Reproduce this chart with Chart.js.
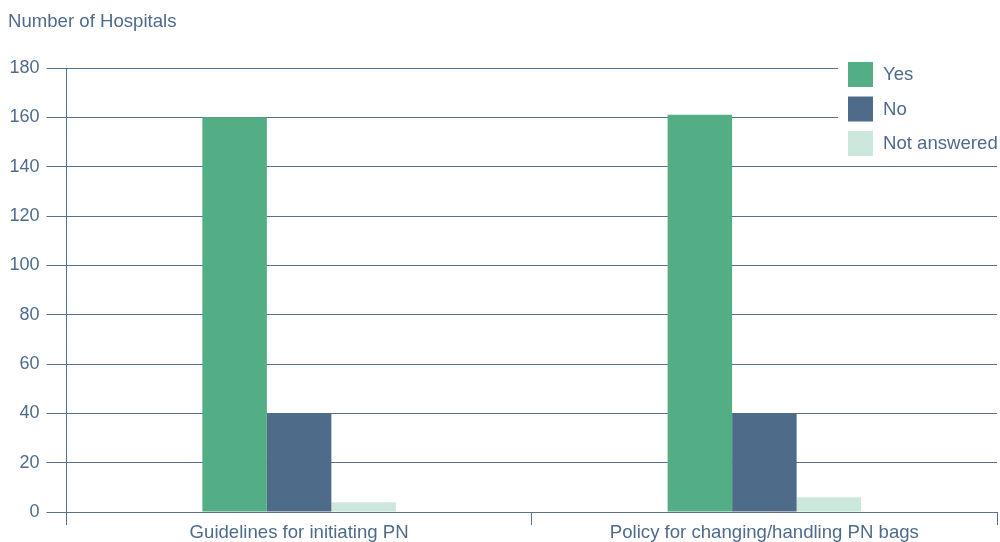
<!DOCTYPE html>
<html>
<head>
<meta charset="utf-8">
<script src="https://cdn.jsdelivr.net/npm/chart.js@4/dist/chart.umd.min.js"></script>
<style>
  html, body { margin: 0; padding: 0; background: #ffffff; }
  #wrap { width: 1000px; height: 542px; position: relative; }
</style>
</head>
<body>
<div id="wrap"><canvas id="chart" width="1000" height="542"></canvas></div>
<script>
// Survey answers per question
const categories = ['Guidelines for initiating PN', 'Policy for changing/handling PN bags'];
const yesValues = [160, 161];
const noValues = [40, 40];
const notAnsweredValues = [4, 6];
const seriesNames = ['Yes', 'No', 'Not answered'];
const yTicks = [0, 20, 40, 60, 80, 100, 120, 140, 160, 180];
const axisTitle = 'Number of Hospitals';

const textColor = '#4f6b8c';
const lineColor = '#56708f';
const fontFamily = '"Liberation Sans", Arial, Helvetica, sans-serif';
const fontSize = 18.6;
const tickFontSize = 18;

// Axis title in the top-left corner plus a boxed legend over the plot
const overlayPlugin = {
  id: 'overlay',
  afterDraw(chart) {
    const ctx = chart.ctx;
    ctx.save();
    ctx.font = fontSize + 'px ' + fontFamily;
    ctx.fillStyle = textColor;
    ctx.textAlign = 'left';
    ctx.textBaseline = 'middle';
    ctx.fillText(axisTitle, 8, 22);

    ctx.fillStyle = '#ffffff';
    ctx.fillRect(838, 55, 162, 106);
    chart.data.datasets.forEach((ds, i) => {
      const y = 62 + i * 34.5;
      ctx.fillStyle = ds.backgroundColor;
      ctx.fillRect(848, y, 25, 25);
      ctx.fillStyle = textColor;
      ctx.fillText(ds.label, 883, y + 13);
    });
    ctx.restore();
  }
};

new Chart(document.getElementById('chart'), {
  type: 'bar',
  data: {
    labels: categories,
    datasets: [
      { label: seriesNames[0], data: yesValues, backgroundColor: '#53ae85' },
      { label: seriesNames[1], data: noValues, backgroundColor: '#4e6b8a' },
      { label: seriesNames[2], data: notAnsweredValues, backgroundColor: '#cce8dc' }
    ]
  },
  options: {
    responsive: false,
    animation: false,
    devicePixelRatio: 1,
    layout: { padding: { top: 68, right: 3, bottom: 0, left: 0 } },
    datasets: {
      bar: { categoryPercentage: 0.416, barPercentage: 1.0, borderWidth: 0 }
    },
    plugins: {
      legend: { display: false },
      title: { display: false },
      tooltip: { enabled: false }
    },
    scales: {
      x: {
        offset: true,
        grid: {
          offset: true,
          drawOnChartArea: false,
          drawTicks: true,
          tickLength: 13,
          color: lineColor,
          lineWidth: 1
        },
        border: { display: true, color: lineColor, width: 1 },
        ticks: {
          color: textColor,
          font: { family: fontFamily, size: fontSize },
          padding: -3,
          maxRotation: 0
        },
        afterFit(scale) { scale.height = 30; }
      },
      y: {
        min: 0,
        max: 180,
        afterBuildTicks(scale) { scale.ticks = yTicks.map(v => ({ value: v })); },
        grid: {
          drawTicks: true,
          tickLength: 20,
          color: lineColor,
          lineWidth: 1
        },
        border: { display: true, color: lineColor, width: 1 },
        ticks: {
          color: textColor,
          font: { family: fontFamily, size: tickFontSize },
          padding: 7
        },
        afterFit(scale) { scale.width = 66.5; }
      }
    }
  },
  plugins: [overlayPlugin]
});
</script>
</body>
</html>
